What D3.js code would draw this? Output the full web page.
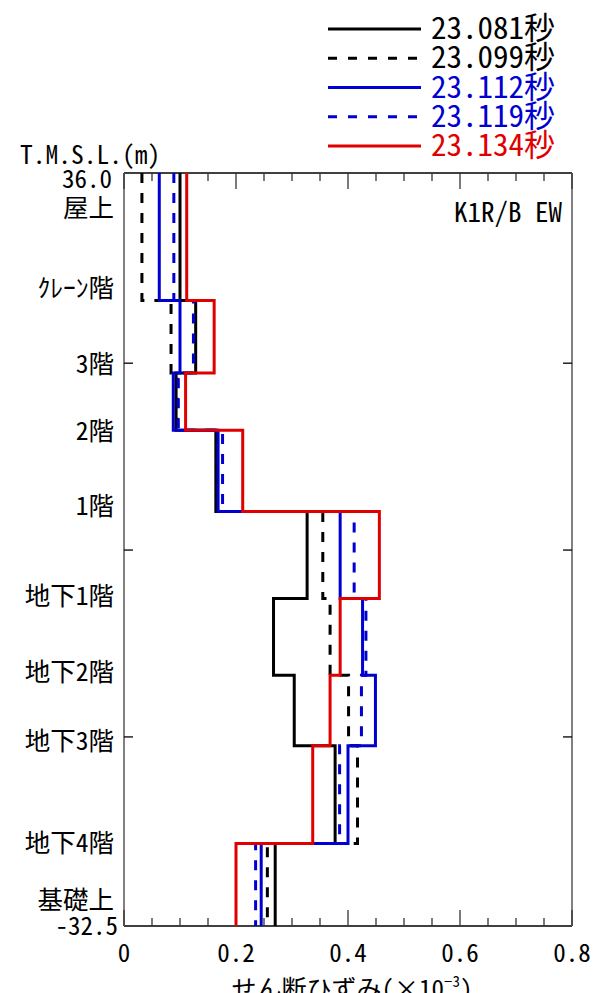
<!DOCTYPE html>
<html>
<head>
<meta charset="utf-8">
<script src="https://cdn.jsdelivr.net/npm/d3@7"></script>
<style>
  body { margin: 0; background: #fff; }
  svg text { font-family: "Noto Sans CJK JP", sans-serif; font-feature-settings: "hwid"; }
</style>
</head>
<body>
<div id="chart"><svg width="594" height="993"></svg></div>
<script>
// story boundaries (T.M.S.L., m), top to bottom
var levels = [36.0, 24.4, 17.8, 12.6, 5.2, -2.7, -9.7, -16.1, -25.0, -32.5];

var floorNames  = ["屋上", "ｸﾚｰﾝ階", "3階", "2階", "1階", "地下1階", "地下2階", "地下3階", "地下4階", "基礎上"];
var floorLevels = [32.9, 25.6, 18.7, 12.6, 5.8, -2.4, -9.3, -15.6, -24.9, -30.1];

var yTicks = [18.7, 1.7, -15.3];
var xTicks = [0, 0.2, 0.4, 0.6, 0.8];
var xTickLabels = ["0", "0.2", "0.4", "0.6", "0.8"];

var periods = ["23.081秒", "23.099秒", "23.112秒", "23.119秒", "23.134秒"];
var colors  = ["#000000", "#000000", "#0000d0", "#0000d0", "#e00000"];
var dashed  = [false, true, false, true, false];

// shear strain per story (x10^-3), top story first
var strain_23081 = [0.100, 0.128, 0.093, 0.164, 0.327, 0.267, 0.304, 0.377, 0.270];
var strain_23099 = [0.032, 0.084, 0.095, 0.166, 0.355, 0.368, 0.401, 0.417, 0.256];
var strain_23112 = [0.063, 0.100, 0.088, 0.168, 0.386, 0.426, 0.449, 0.400, 0.245];
var strain_23119 = [0.089, 0.124, 0.097, 0.176, 0.411, 0.432, 0.424, 0.385, 0.235];
var strain_23134 = [0.112, 0.161, 0.110, 0.212, 0.456, 0.386, 0.368, 0.337, 0.200];
var dataset = [strain_23081, strain_23099, strain_23112, strain_23119, strain_23134];

var svg = d3.select("#chart").select("svg");

var x = d3.scaleLinear().domain([0, 0.8]).range([124, 572]);
var y = d3.scaleLinear().domain([36.0, -32.5]).range([173, 926]);

// frame
svg.append("line").attr("x1", x(0)).attr("x2", x(0.8)).attr("y1", y(36)).attr("y2", y(36))
  .attr("stroke", "#000").attr("stroke-width", 1.5);
svg.append("line").attr("x1", x(0)).attr("x2", x(0.8)).attr("y1", y(-32.5)).attr("y2", y(-32.5))
  .attr("stroke", "#000").attr("stroke-width", 1.5);
svg.append("line").attr("x1", x(0)).attr("x2", x(0)).attr("y1", y(36)).attr("y2", y(-32.5))
  .attr("stroke", "#808080").attr("stroke-width", 2);
svg.append("line").attr("x1", x(0.8)).attr("x2", x(0.8)).attr("y1", y(36)).attr("y2", y(-32.5))
  .attr("stroke", "#808080").attr("stroke-width", 2);

// x ticks (inward, top and bottom)
var minor = d3.range(0, 0.8001, 0.05);
var tickLen = function(d) { return Math.abs(d / 0.2 - Math.round(d / 0.2)) < 1e-6 ? 16 : 8; };
svg.append("g").selectAll("line").data(minor).enter().append("line")
  .attr("x1", function(d) { return x(d); }).attr("x2", function(d) { return x(d); })
  .attr("y1", y(-32.5)).attr("y2", function(d) { return y(-32.5) - tickLen(d); })
  .attr("stroke", "#333").attr("stroke-width", 1.3);
svg.append("g").selectAll("line").data(minor).enter().append("line")
  .attr("x1", function(d) { return x(d); }).attr("x2", function(d) { return x(d); })
  .attr("y1", y(36)).attr("y2", function(d) { return y(36) + tickLen(d); })
  .attr("stroke", "#333").attr("stroke-width", 1.3);

// y ticks (inward, left and right)
svg.append("g").selectAll("line").data(yTicks).enter().append("line")
  .attr("x1", x(0)).attr("x2", x(0) + 9)
  .attr("y1", function(d) { return y(d); }).attr("y2", function(d) { return y(d); })
  .attr("stroke", "#000").attr("stroke-width", 1.3);
svg.append("g").selectAll("line").data(yTicks).enter().append("line")
  .attr("x1", x(0.8)).attr("x2", x(0.8) - 9)
  .attr("y1", function(d) { return y(d); }).attr("y2", function(d) { return y(d); })
  .attr("stroke", "#000").attr("stroke-width", 1.3);

// x tick labels
svg.append("g").selectAll("text").data(xTicks).enter().append("text")
  .attr("x", function(d) { return x(d); }).attr("y", 962)
  .attr("text-anchor", "middle").style("font-size", "25px")
  .text(function(d, i) { return xTickLabels[i]; });

// axis title (cut by the bottom edge, as in the original)
var title = svg.append("text").attr("x", 352).attr("y", 998)
  .attr("text-anchor", "middle").style("font-size", "25px");
title.append("tspan").text("せん断ひずみ（×10");
title.append("tspan").attr("dy", -11).style("font-size", "15px").text("−3");
title.append("tspan").attr("dy", 11).text("）");

// y axis labels
svg.append("text").attr("x", 20).attr("y", 164).style("font-size", "25.5px").text("T.M.S.L.(m)");
svg.append("text").attr("x", 112).attr("y", 188).attr("text-anchor", "end")
  .style("font-size", "25px").text("36.0");
svg.append("text").attr("x", 118).attr("y", 935).attr("text-anchor", "end")
  .style("font-size", "25px").text("-32.5");

svg.append("g").selectAll("text").data(floorNames).enter().append("text")
  .attr("x", 114).attr("y", function(d, i) { return y(floorLevels[i]); })
  .attr("dy", "0.38em").attr("text-anchor", "end").style("font-size", "25.5px")
  .text(function(d) { return d; });

svg.append("text").attr("x", 562).attr("y", 222).attr("text-anchor", "end")
  .style("font-size", "27px").text("K1R/B EW");

// step profiles
function stepPoints(vals) {
  var pts = [];
  vals.forEach(function(v, i) {
    pts.push([v, levels[i]]);
    pts.push([v, levels[i + 1]]);
  });
  return pts;
}
var line = d3.line().x(function(d) { return x(d[0]); }).y(function(d) { return y(d[1]); });

svg.append("g").selectAll("path").data(dataset).enter().append("path")
  .attr("d", function(d) { return line(stepPoints(d)); })
  .attr("fill", "none")
  .attr("stroke", function(d, i) { return colors[i]; })
  .attr("stroke-width", 3)
  .attr("stroke-dasharray", function(d, i) { return dashed[i] ? "10,10" : null; });

// legend
var legend = svg.append("g").selectAll("g").data(periods).enter().append("g")
  .attr("transform", function(d, i) { return "translate(0," + (29 + i * 29.25) + ")"; });
legend.append("line").attr("x1", 328).attr("x2", 421).attr("y1", 0).attr("y2", 0)
  .attr("stroke", function(d, i) { return colors[i]; })
  .attr("stroke-width", 3)
  .attr("stroke-dasharray", function(d, i) { return dashed[i] ? "9,11" : null; });
legend.append("text").attr("x", 431).attr("y", 10)
  .style("font-size", "31px")
  .style("fill", function(d, i) { return colors[i]; })
  .text(function(d) { return d; });
</script>
</body>
</html>
